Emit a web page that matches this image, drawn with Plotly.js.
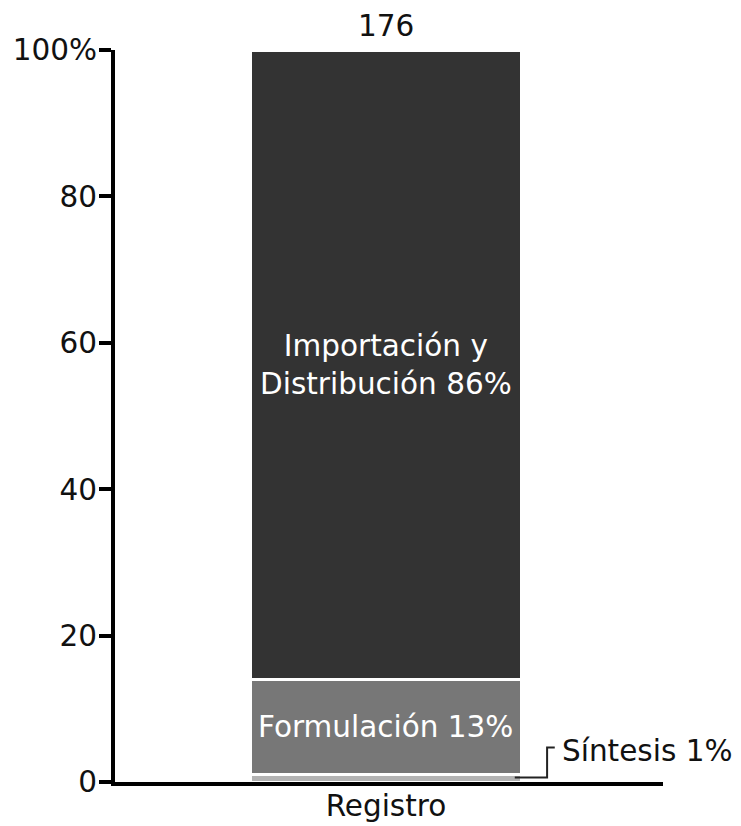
<!DOCTYPE html>
<html>
<head>
<meta charset="utf-8">
<script src="https://cdn.plot.ly/plotly-3.0.1.min.js"></script>
<style>html,body{margin:0;padding:0;background:#fff;}#chart{width:741px;height:826px;}</style>
</head>
<body>
<div id="chart"></div>
<script>
var categories = ["Registro"];
var segmentNames = ["Síntesis", "Formulación", "Importación y<br>Distribución"];
var segmentValues = [1, 13, 86];
var segmentColors = ["#b3b3b3", "#777777", "#333333"];
var totalCount = 176;
var yTickVals = [0, 20, 40, 60, 80, 100];
var yTickText = ["0", "20", "40", "60", "80", "100%"];

var FONT = "DejaVu Sans, Verdana, sans-serif";
var FS = 29.5;

var traces = segmentValues.map(function (v, i) {
  return {
    type: "bar",
    x: categories,
    y: [v],
    name: segmentNames[i],
    width: 0.496,
    marker: { color: segmentColors[i], line: { color: "#ffffff", width: 3 } },
    hoverinfo: "skip",
    showlegend: false
  };
});

var annotations = [];
var cum = 0;
segmentValues.forEach(function (v, i) {
  var mid = cum + v / 2;
  cum += v;
  if (i === 0) {
    annotations.push({
      x: 0.318, y: 4.3, xref: "x", yref: "y",
      text: segmentNames[i] + " " + v + "%",
      showarrow: false, xanchor: "left", yanchor: "middle",
      font: { family: FONT, size: FS, color: "#111" }
    });
  } else {
    annotations.push({
      x: categories[0], y: mid, xref: "x", yref: "y",
      text: segmentNames[i] + " " + v + "%",
      showarrow: false, xanchor: "center", yanchor: "middle",
      font: { family: FONT, size: FS, color: "#ffffff" }
    });
  }
});
annotations.push({
  x: categories[0], y: cum, xref: "x", yref: "y",
  text: String(totalCount), showarrow: false,
  xanchor: "center", yanchor: "bottom", yshift: 5,
  font: { family: FONT, size: FS, color: "#111" }
});

var sMid = segmentValues[0] / 2 + 0.1;
var shapes = [{
  type: "path", xref: "x", yref: "y",
  path: "M 0.235 " + sMid + " L 0.294 " + sMid + " L 0.294 4.7 L 0.308 4.7",
  line: { color: "#222", width: 2 }
}];

var layout = {
  width: 741, height: 826,
  margin: { l: 115, r: 78, t: 50, b: 44 },
  paper_bgcolor: "#fff", plot_bgcolor: "#fff",
  barmode: "stack",
  font: { family: FONT, size: FS, color: "#111" },
  xaxis: {
    type: "category", range: [-0.4945, 0.5055],
    showline: true, linecolor: "#000", linewidth: 4,
    ticks: "", showgrid: false, zeroline: false,
    ticklabelstandoff: -5,
    tickfont: { family: FONT, size: FS, color: "#111" }
  },
  yaxis: {
    range: [0, 100], tickvals: yTickVals, ticktext: yTickText,
    showline: true, linecolor: "#000", linewidth: 4,
    ticks: "outside", ticklen: 12, tickwidth: 4, tickcolor: "#000",
    showgrid: false, zeroline: false,
    ticklabelstandoff: -4,
    tickfont: { family: FONT, size: FS, color: "#111" }
  },
  annotations: annotations,
  shapes: shapes
};

Plotly.newPlot("chart", traces, layout, { displayModeBar: false, staticPlot: true });
</script>
</body>
</html>
